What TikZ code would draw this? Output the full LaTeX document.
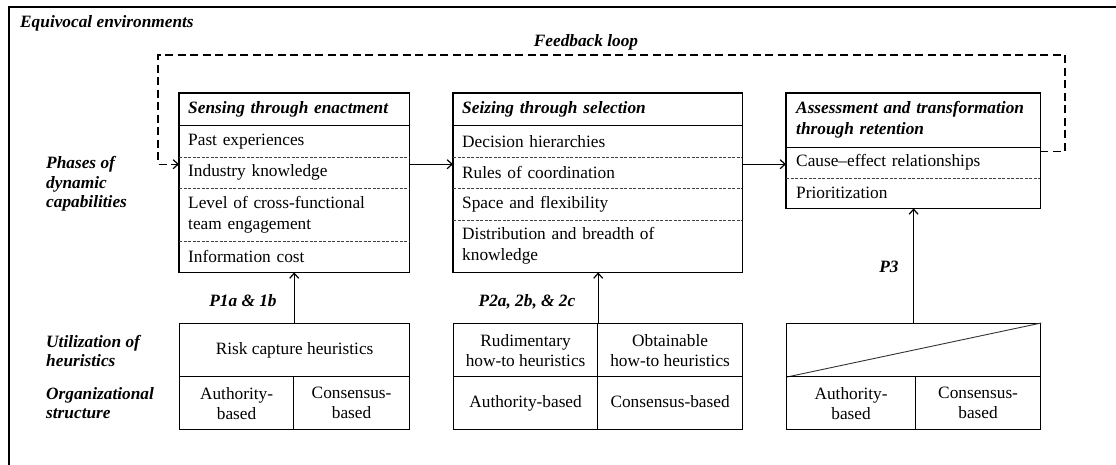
\documentclass[tikz,border=0pt]{standalone}
\usepackage{fontspec}
\setmainfont{Liberation Serif}
\usetikzlibrary{arrows.meta}
\begin{document}
\begin{tikzpicture}[x=1pt,y=-1pt,
  basefont/.style={font=\fontsize{17.3}{21}\selectfont},
  row/.style={anchor=north west, inner xsep=9pt, inner ysep=0pt, align=left, basefont},
  hdr/.style={row, font=\fontsize{17.3}{21}\selectfont\bfseries\itshape},
  lbl/.style={anchor=west, align=left, inner sep=0pt, font=\fontsize{17.3}{19.5}\selectfont\bfseries\itshape},
  plbl/.style={inner sep=0pt, font=\fontsize{17.3}{19}\selectfont\bfseries\itshape},
  cell/.style={draw, line width=1.2pt, anchor=north west, align=center, inner sep=0pt, minimum height=53pt, font=\fontsize{17.3}{20}\selectfont},
  boxline/.style={line width=1.2pt},
  sep/.style={line width=0.6pt, dash pattern=on 3pt off 1.5pt, black!75},
  arr/.style={line width=1.2pt, -{Straight Barb[length=5pt,width=9pt]}},
  fb/.style={line width=1.2pt, dash pattern=on 8pt off 4.5pt, -{Straight Barb[length=5pt,width=9pt]}},
  frame/.style={line width=1.3pt}
]
\useasboundingbox (0,0) rectangle (1116,465);

% outer frame (left and top edges visible)
\coordinate (frTL) at (9,7);
\coordinate (frTR) at (1116,7);
\coordinate (frBL) at (9,465);
\draw[frame] (frBL) -- (frTL) -- (frTR);

\node[lbl] (equiv) at (20,23) {Equivocal environments};

% left side labels
\node[lbl] (phases) at (46,184) {Phases of\\dynamic\\capabilities};
\node[lbl] (util) at (46,351) {Utilization of\\heuristics};
\node[lbl] (org) at (46,403) {Organizational\\structure};

% ---- Box 1: Sensing ----
\node[hdr, text width=212pt, minimum height=32pt] (h1) at (179,93) {Sensing through enactment};
\node[row, text width=212pt, minimum height=32pt] (a1) at (179,125) {Past experiences};
\node[row, text width=212pt, minimum height=31pt] (a2) at (179,157) {Industry knowledge};
\node[row, text width=212pt, minimum height=53pt] (a3) at (179,188) {Level of cross-functional\\team engagement};
\node[row, text width=212pt, minimum height=31pt] (a4) at (179,241) {Information cost};
\draw[boxline] (h1.north west) rectangle (a4.south east);
\draw[boxline] (h1.south west) -- (h1.south east);
\draw[sep] (a1.south west) -- (a1.south east);
\draw[sep] (a2.south west) -- (a2.south east);
\draw[sep] (a3.south west) -- (a3.south east);

% ---- Box 2: Seizing ----
\node[hdr, text width=271pt, minimum height=32pt] (h2) at (453,93) {Seizing through selection};
\node[row, text width=271pt, minimum height=32pt] (b1) at (453,125) {Decision hierarchies};
\node[row, text width=271pt, minimum height=31pt] (b2) at (453,157) {Rules of coordination};
\node[row, text width=271pt, minimum height=32pt] (b3) at (453,188) {Space and flexibility};
\node[row, text width=271pt, minimum height=52pt] (b4) at (453,220) {Distribution and breadth of\\knowledge};
\draw[boxline] (h2.north west) rectangle (b4.south east);
\draw[boxline] (h2.south west) -- (h2.south east);
\draw[sep] (b1.south west) -- (b1.south east);
\draw[sep] (b2.south west) -- (b2.south east);
\draw[sep] (b3.south west) -- (b3.south east);

% ---- Box 3: Assessment ----
\node[hdr, text width=234pt, minimum height=54pt, inner xsep=10pt] (h3) at (786,93) {Assessment and transformation\\through retention};
\node[row, text width=234pt, minimum height=31pt, inner xsep=10pt] (c1) at (786,147) {Cause–effect relationships};
\node[row, text width=234pt, minimum height=30pt, inner xsep=10pt] (c2) at (786,178) {Prioritization};
\draw[boxline] (h3.north west) rectangle (c2.south east);
\draw[boxline] (h3.south west) -- (h3.south east);
\draw[sep] (c1.south west) -- (c1.south east);

% ---- arrows between phases ----
\coordinate (m1) at ([yshift=8.5pt]a2.east);
\coordinate (m2) at ([yshift=8.5pt]b2.east);
\draw[arr] (m1) -- (m1 -| b2.west);
\draw[arr] (m2) -- (m2 -| c1.west);

% ---- feedback loop ----
\coordinate (fbS) at ([yshift=11.5pt]c1.east);
\coordinate (fbR) at (1065,55);
\coordinate (fbL) at (158,55);
\coordinate (fbE) at ([yshift=8.5pt]a2.west);
\draw[fb] (fbS) -| (fbR) -- (fbL) |- (fbE);
\node[plbl] (fblabel) at (586,42) {Feedback loop};

% ---- bottom box 1 ----
\node[cell, minimum width=230pt] (r1) at (179,323) {Risk capture heuristics};
\node[cell, minimum width=114pt] (s1a) at (179,376) {Authority-\\based};
\node[cell, minimum width=116pt] (s1b) at (293,376) {Consensus-\\based};

% ---- bottom box 2 ----
\node[cell, minimum width=144pt] (t2a) at (453,323) {Rudimentary\\how-to heuristics};
\node[cell, minimum width=145pt] (t2b) at (597,323) {Obtainable\\how-to heuristics};
\node[cell, minimum width=144pt] (s2a) at (453,376) {\strut Authority-based};
\node[cell, minimum width=145pt] (s2b) at (597,376) {\strut Consensus-based};

% ---- bottom box 3 ----
\node[cell, minimum width=254pt] (t3) at (786,323) {};
\draw[line width=0.9pt, black!80] (t3.south west) -- (t3.north east);
\node[cell, minimum width=129pt] (s3a) at (786,376) {Authority-\\based};
\node[cell, minimum width=125pt] (s3b) at (915,376) {Consensus-\\based};

% ---- upward arrows ----
\draw[arr] (s1a.north east |- r1.north) -- (s1a.north east |- a4.south);
\draw[arr] (t2a.north east) -- (t2a.north east |- b4.south);
\draw[arr] (t3.north) -- (t3.north |- c2.south);

\node[plbl] (p1) at (243,301) {P1a \& 1b};
\node[plbl] (p2) at (527,302) {P2a, 2b, \& 2c};
\node[plbl] (p3) at (889,267) {P3};
\end{tikzpicture}
\end{document}
